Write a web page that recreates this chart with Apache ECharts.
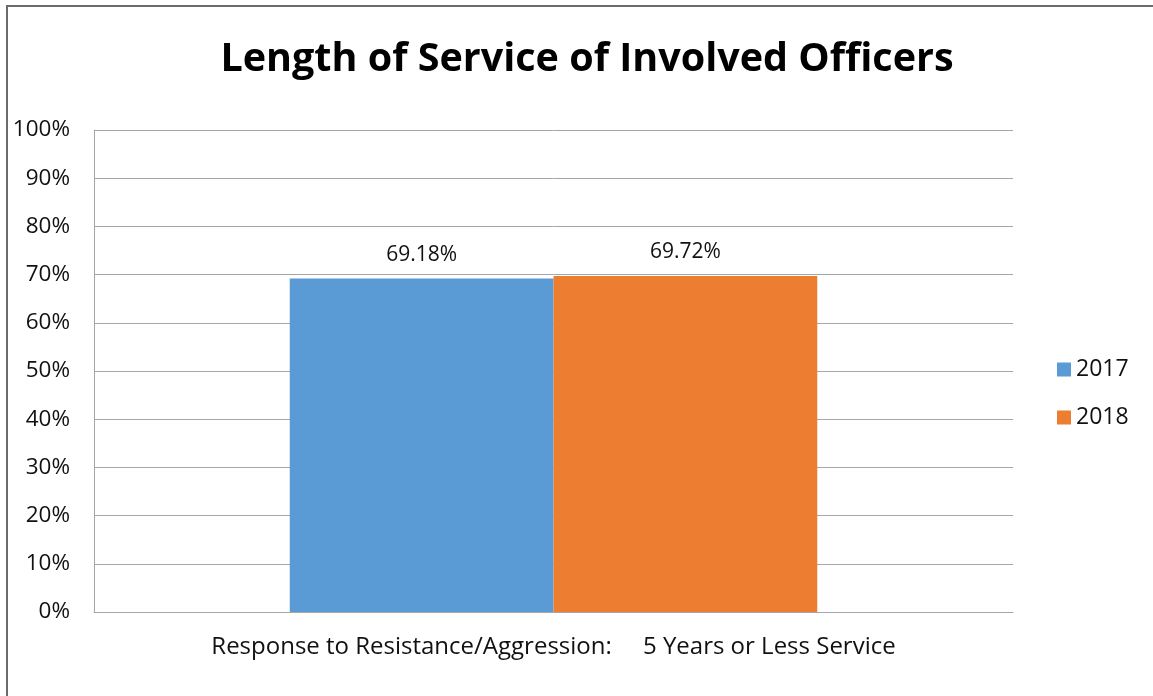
<!DOCTYPE html>
<html>
<head>
<meta charset="utf-8">
<script src="https://cdn.jsdelivr.net/npm/echarts@6/dist/echarts.min.js"></script>
<style>
  html, body { margin: 0; padding: 0; background: #fff; }
  #frame { position: absolute; left: 6px; top: 5px; width: 1147px; height: 691px;
           border-top: 2px solid #6b6b6b; border-left: 2px solid #6b6b6b; box-sizing: border-box; }
  #chart { position: absolute; left: 0; top: 0; width: 1153px; height: 696px; }
</style>
</head>
<body>
<div id="frame"></div>
<div id="chart"></div>
<script>
// Share of involved officers with 5 years or less of service, by year
const categories = ['Response to Resistance/Aggression:     5 Years or Less Service'];
const years = ['2017', '2018'];
const values2017 = [69.18];
const values2018 = [69.72];
const colors = ['#5b9bd5', '#ed7d31'];

const FONT = '"Open Sans", sans-serif';

const chart = echarts.init(document.getElementById('chart'), null, { renderer: 'canvas' });

const labelStyle = {
  show: true,
  position: 'top',
  distance: 13,
  color: '#111',
  fontSize: 21,
  fontFamily: FONT,
  formatter: p => p.value.toFixed(2) + '%'
};

chart.setOption({
  animation: false,
  backgroundColor: 'transparent',
  title: {
    text: 'Length of Service of Involved Officers',
    left: 582,
    top: 35,
    textAlign: 'center',
    textStyle: { fontSize: 39.5, fontWeight: 'bold', color: '#000', fontFamily: FONT }
  },
  legend: {
    orient: 'vertical',
    left: 1052,
    top: 353,
    itemWidth: 14,
    itemHeight: 14,
    itemGap: 25,
    icon: 'rect',
    textStyle: { fontSize: 23, color: '#111', fontFamily: FONT, padding: [0, 0, 0, 0] },
    data: years
  },
  grid: { left: 94, right: 140, top: 130, bottom: 84 },
  xAxis: {
    type: 'category',
    data: categories,
    axisLine: { show: true, lineStyle: { color: '#a6a6a6', width: 1 } },
    axisTick: { show: false },
    axisLabel: { fontSize: 24, color: '#111', fontFamily: FONT, margin: 23 }
  },
  yAxis: {
    type: 'value',
    min: 0,
    max: 100,
    interval: 10,
    axisLine: { show: true, lineStyle: { color: '#a6a6a6', width: 1 } },
    axisTick: { show: false },
    splitLine: { lineStyle: { color: '#a6a6a6', width: 1 } },
    axisLabel: { fontSize: 22.5, color: '#111', fontFamily: FONT, margin: 24, formatter: '{value}%' }
  },
  series: [
    {
      name: years[0],
      type: 'bar',
      data: values2017,
      itemStyle: { color: colors[0] },
      barGap: '0%',
      barCategoryGap: '42.6%',
      label: labelStyle
    },
    {
      name: years[1],
      type: 'bar',
      data: values2018,
      itemStyle: { color: colors[1] },
      label: labelStyle
    }
  ]
});
</script>
</body>
</html>
